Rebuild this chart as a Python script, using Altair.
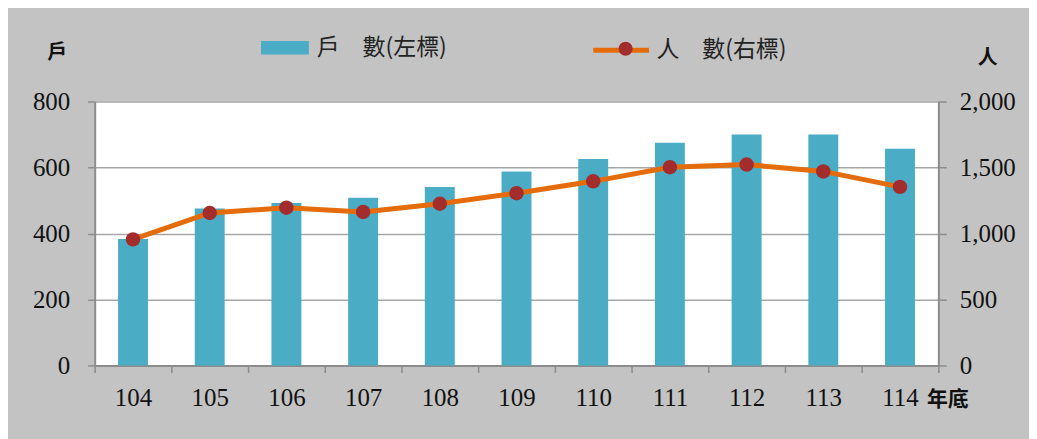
import altair as alt
import pandas as pd

years = ["104", "105", "106", "107", "108", "109", "110", "111", "112", "113", "114"]
households = [383, 476, 492, 508, 541, 588, 626, 675, 700, 700, 657]
persons = [955, 1155, 1195, 1163, 1225, 1305, 1395, 1502, 1522, 1470, 1353]
left_ticks = [0, 200, 400, 600, 800]
right_ticks = [0, 500, 1000, 1500, 2000]

HH = "戶　數(左標)"
PP = "人　數(右標)"

df = pd.DataFrame({"year": years, "households": households, "persons": persons,
                   "hh": HH, "pp": PP})

serif = "Liberation Serif"
cjk = "Noto Sans CJK TC"
axis_gray = "#8c8c8c"
text_col = "#111111"

x = alt.X("year:N", sort=years,
          scale=alt.Scale(paddingInner=0, paddingOuter=0),
          axis=alt.Axis(title="年底", labelAngle=0, tickBand="extent", ticks=True,
                        tickSize=7, tickColor=axis_gray, tickWidth=1.5,
                        domainColor=axis_gray, domainWidth=2,
                        labelFont=serif, labelFontSize=25, labelColor=text_col,
                        labelPadding=13, titleFont=cjk, titleFontSize=21,
                        titleFontWeight="bold", titleColor=text_col,
                        titleX=856, titleY=34, titleAlign="center",
                        titleBaseline="middle", grid=False))

left_axis = alt.Axis(title="戶", orient="left", values=left_ticks,
                     labelFont=serif, labelFontSize=25, labelColor=text_col,
                     labelPadding=18, tickSize=7, tickColor=axis_gray, tickWidth=1.5,
                     domainColor=axis_gray, domainWidth=2,
                     grid=True, gridColor="#a6a6a6", gridWidth=1.5,
                     titleAngle=0, titleX=-38, titleY=-49, titleAlign="center",
                     titleBaseline="middle", titleFont=cjk, titleFontSize=20,
                     titleFontWeight="bold", titleColor=text_col)

right_axis = alt.Axis(title="人", orient="right", values=right_ticks, format=",d",
                      labelFont=serif, labelFontSize=25, labelColor=text_col,
                      labelPadding=13, tickSize=8, tickColor=axis_gray, tickWidth=1.5,
                      domainColor=axis_gray, domainWidth=2, grid=False,
                      titleAngle=0, titleX=49, titleY=-44, titleAlign="center",
                      titleBaseline="middle", titleFont=cjk, titleFontSize=20,
                      titleFontWeight="bold", titleColor=text_col)

bars = alt.Chart(df).mark_bar(width=alt.RelativeBandSize(0.39)).encode(
    x=x,
    y=alt.Y("households:Q", scale=alt.Scale(domain=[0, 800], nice=False), axis=left_axis),
    color=alt.Color("hh:N", scale=alt.Scale(range=["#4BACC6"]),
                    legend=alt.Legend(title=None, orient="none", legendX=167, legendY=-78,
                                      symbolType="M-1,-0.28H1V0.28H-1Z", symbolSize=2304,
                                      symbolStrokeWidth=0, labelOffset=8, labelFont=cjk,
                                      labelFontSize=23, labelColor="#222", padding=0)),
)

yr = alt.Y("persons:Q", scale=alt.Scale(domain=[0, 2000], nice=False), axis=right_axis)

line = alt.Chart(df).mark_line(strokeWidth=5).encode(
    x=x, y=yr,
    stroke=alt.Stroke("pp:N", scale=alt.Scale(range=["#E46C0A"]),
                      legend=alt.Legend(title=None, orient="none", legendX=498, legendY=-82,
                                        symbolType="stroke", symbolSize=3136,
                                        symbolStrokeWidth=5, labelOffset=5, labelFont=cjk,
                                        labelFontSize=23, labelColor="#222", padding=0,
                                        zindex=1)),
)

points = alt.Chart(df).mark_circle(size=210, opacity=1).encode(
    x=x, y=yr,
    fill=alt.Fill("pp:N", scale=alt.Scale(range=["#A32C2C"]),
                  legend=alt.Legend(title=None, orient="none", legendX=523, legendY=-63,
                                    symbolType="circle", symbolSize=200,
                                    symbolStrokeWidth=0, labelExpr="''",
                                    labelFontSize=20, padding=0, zindex=2)),
)

chart = alt.layer(bars, alt.layer(line, points)).resolve_scale(y="independent").properties(
    width=847, height=265,
    autosize=alt.AutoSizeParams(type="none"),
    padding={"left": 87, "top": 93, "right": 91, "bottom": 73},
    background="#c3c3c3",
).configure_view(fill="white", stroke=None)

chart.save("out.html", embed_options={"renderer": "svg", "actions": False})
